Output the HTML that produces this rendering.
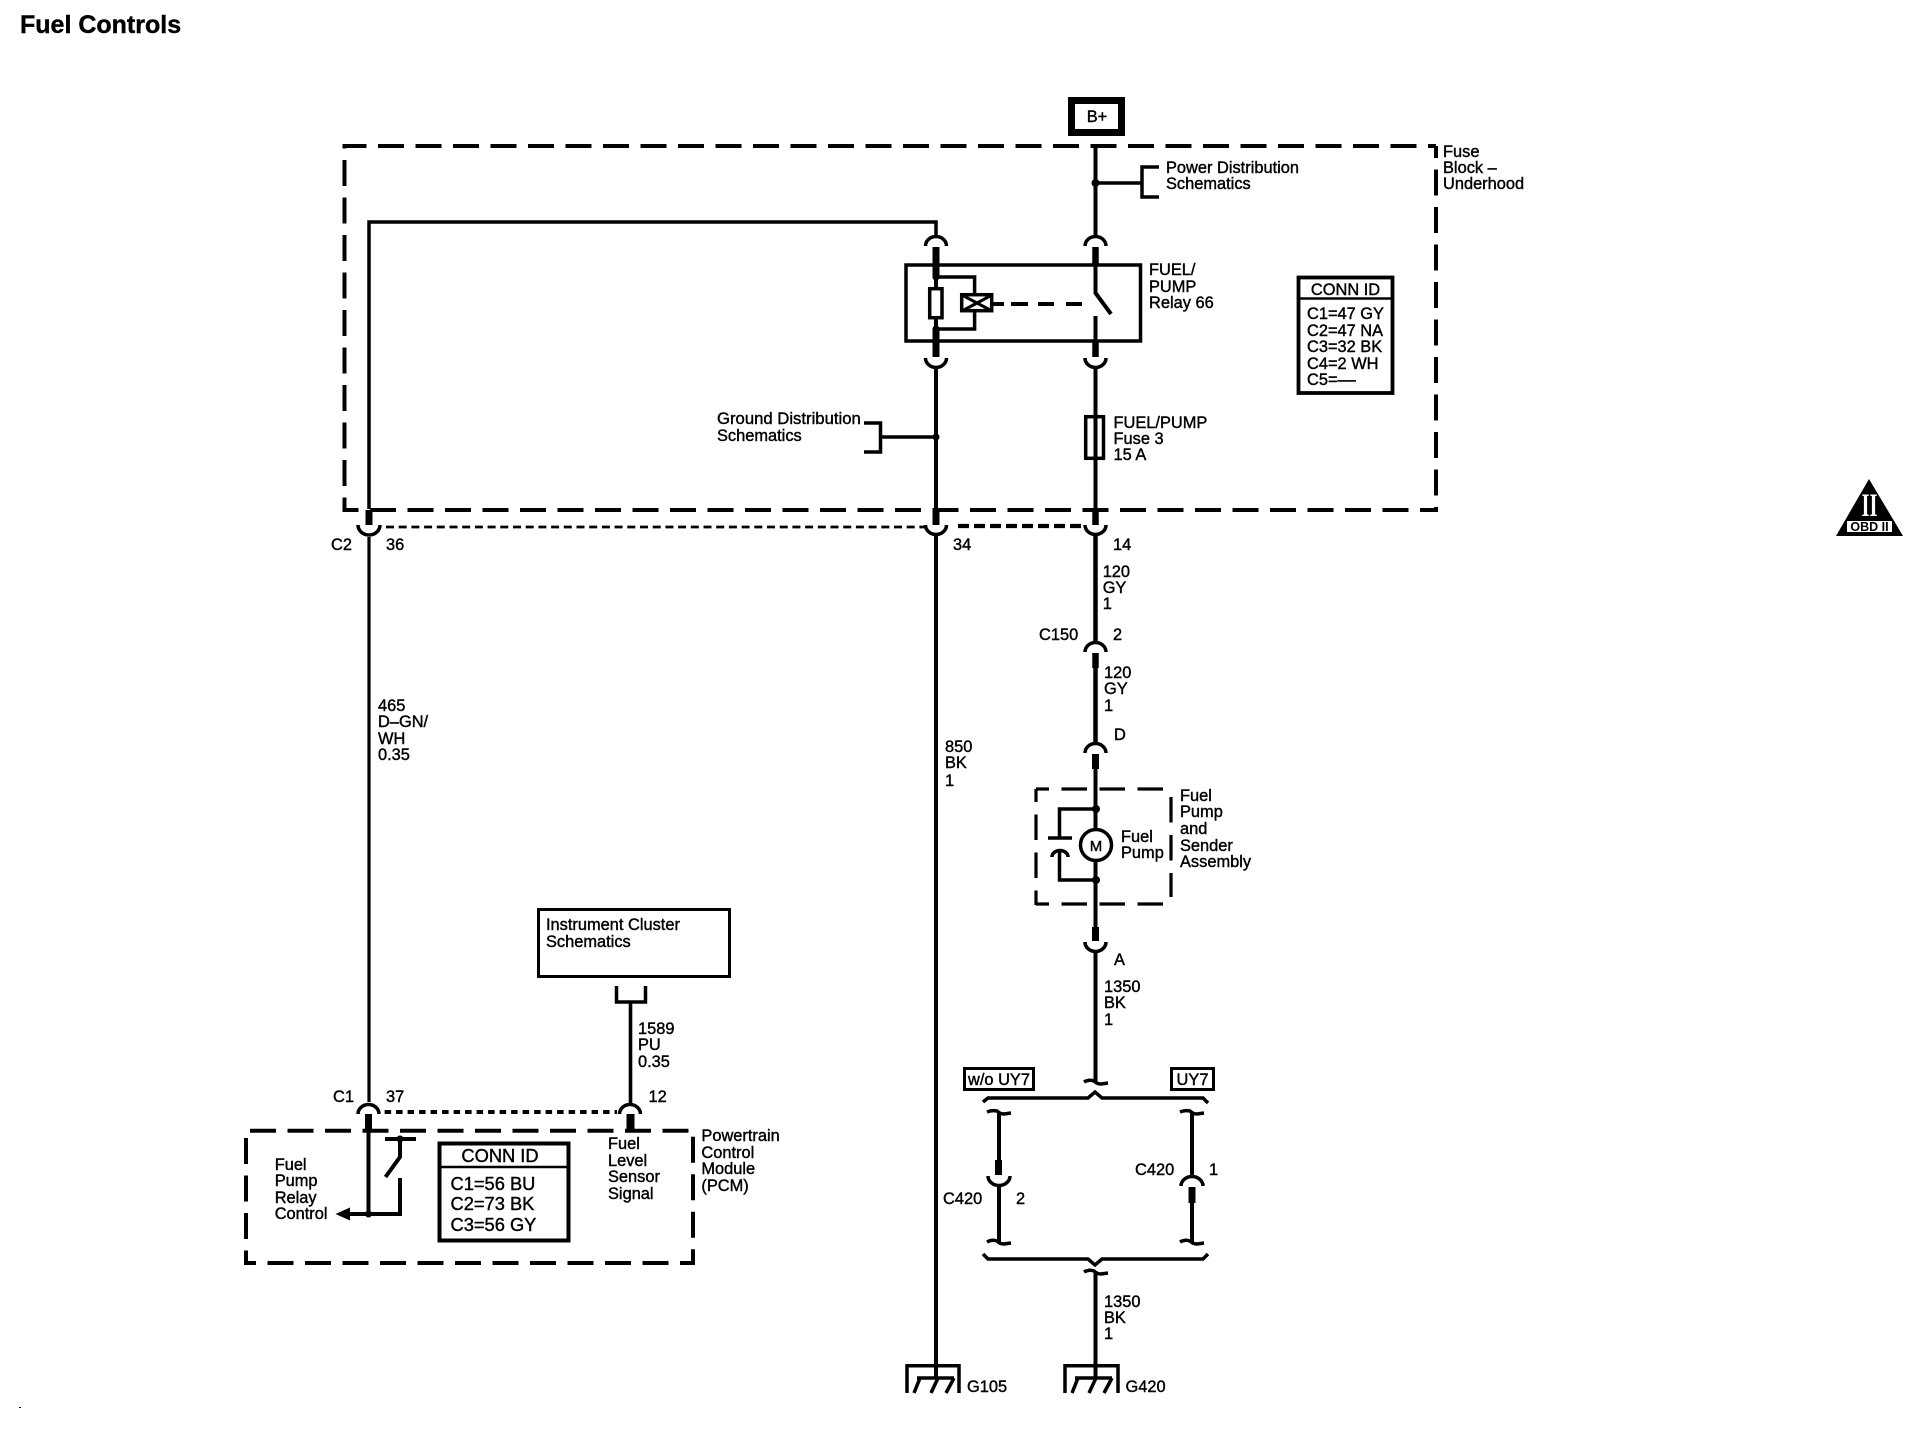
<!DOCTYPE html>
<html><head><meta charset="utf-8"><title>Fuel Controls</title>
<style>
html,body{margin:0;padding:0;background:#fff}
svg{display:block}
text{font-family:"Liberation Sans",Arial,sans-serif;font-size:16.4px;fill:#000;stroke:#000;stroke-width:.4px}
.b{font-size:18.3px}
.w{fill:none;stroke:#000;stroke-width:4}
.t{fill:none;stroke:#000;stroke-width:3.5}
.a{fill:none;stroke:#000;stroke-width:3.5}
.s{fill:none;stroke:#000;stroke-width:3}
.d{fill:none;stroke:#000;stroke-width:4;stroke-dasharray:26 11.5}
.p{fill:none;stroke:#000;stroke-width:3.2;stroke-dasharray:25.5 12.5}
</style></head><body>
<svg xmlns="http://www.w3.org/2000/svg" width="1924" height="1440" viewBox="0 0 1924 1440">
<rect width="1924" height="1440" fill="#fff"/>
<text x="20" y="33" style="font-size:25px;font-weight:bold">Fuel Controls</text>
<rect x="19" y="1407" width="2" height="1" fill="#000"/>

<!-- B+ -->
<rect x="1071.5" y="100.5" width="50" height="32" fill="#fff" stroke="#000" stroke-width="7"/>
<text x="1097" y="122" text-anchor="middle">B+</text>

<!-- Fuse block dashed -->
<path class="d" style="stroke-dashoffset:4" d="M344.5 146H1436"/>
<path class="d" style="stroke-dashoffset:12" d="M344.5 510H1436"/>
<path class="d" style="stroke-dashoffset:21.5" d="M344.5 144V512"/>
<path class="d" style="stroke-dashoffset:14" d="M1436 146V512"/>

<!-- Left wire -->
<path class="t" d="M369 509V222H936V235"/>
<path d="M369 510V525" stroke="#000" stroke-width="7" fill="none"/>
<path class="s" style="stroke-width:3.2" d="M369 537V1102"/>
<path class="a" d="M358 525a11 10 0 0 0 22 0"/>

<!-- Middle wire -->
<path class="a" d="M925.5 246a10.5 9.5 0 0 1 21 0"/>
<path d="M936 247V277" stroke="#000" stroke-width="7" fill="none"/>
<path class="w" d="M936 277V329"/>
<path d="M936 329V357" stroke="#000" stroke-width="7" fill="none"/>
<path class="a" d="M925.5 358a10.5 9.5 0 0 0 21 0"/>
<path class="w" d="M936 367V509"/>
<path d="M936 509V525" stroke="#000" stroke-width="7" fill="none"/>
<path class="a" d="M925.5 525a10.5 9.5 0 0 0 21 0"/>
<path class="w" d="M936 535V1378"/>

<!-- Relay -->
<rect x="906" y="265" width="234.5" height="76" fill="none" stroke="#000" stroke-width="3.5"/>
<rect x="929.7" y="288.7" width="12.3" height="29" fill="#fff" stroke="#000" stroke-width="3.5"/>
<path class="t" d="M936 277H974.6V293M974.6 312V329H936"/>
<circle cx="936" cy="277" r="3.6"/><circle cx="936" cy="329" r="3.6"/>
<rect x="961.7" y="294.7" width="30" height="16" fill="#fff" stroke="#000" stroke-width="3.5"/>
<path d="M962 295L992 311M992 295L962 311" stroke="#000" stroke-width="3" fill="none"/>
<path d="M993 304H1083" stroke="#000" stroke-width="4" stroke-dasharray="11 7 17 10 16 12 16" fill="none"/>

<!-- Right wire -->
<path class="w" d="M1095.5 146V235"/>
<circle cx="1095.5" cy="183" r="4"/>
<path class="a" d="M1085 246a10.5 9.5 0 0 1 21 0"/>
<path d="M1095.5 247V265" stroke="#000" stroke-width="6.5" fill="none"/>
<path class="w" d="M1095.5 265V293L1111 314M1095.5 316V342"/>
<path d="M1095.5 342V357" stroke="#000" stroke-width="6.5" fill="none"/>
<path class="a" d="M1085 358a10.5 9.5 0 0 0 21 0"/>
<path class="w" d="M1095.5 367V509"/>
<rect x="1085.7" y="416.7" width="17.8" height="41.6" fill="none" stroke="#000" stroke-width="3.5"/>
<path d="M1095.5 509V525" stroke="#000" stroke-width="6.5" fill="none"/>
<path class="a" d="M1085 525a10.5 9.5 0 0 0 21 0"/>
<path class="w" style="stroke-width:4.5" d="M1095.5 535V642"/>
<path class="a" d="M1085 652a10.5 9.5 0 0 1 21 0"/>
<path d="M1095.5 653V668" stroke="#000" stroke-width="6.5" fill="none"/>
<path class="w" style="stroke-width:4.5" d="M1095.5 668V743"/>
<path class="a" d="M1085 753a10.5 9.5 0 0 1 21 0"/>
<path d="M1095.5 754V769" stroke="#000" stroke-width="7" fill="none"/>
<path class="w" d="M1095.5 769V830M1095.5 862V927"/>
<path d="M1095.5 927V941" stroke="#000" stroke-width="7" fill="none"/>
<path class="a" d="M1085 942a10.5 9.5 0 0 0 21 0"/>
<path class="w" d="M1095.5 952V1082"/>

<!-- Power Distribution bracket -->
<path class="t" d="M1095.5 183H1142M1159 167H1142V197H1159"/>
<!-- Ground Distribution bracket -->
<path class="t" d="M936 437H880.5M864 423H880.5V452H864"/>
<circle cx="936" cy="437" r="3.5"/>

<!-- dotted connector lines -->
<path d="M386 527H925" stroke="#000" stroke-width="2.8" stroke-dasharray="8 4.7" fill="none"/>
<path d="M958 526H1083" stroke="#000" stroke-width="4.2" stroke-dasharray="11 5" fill="none"/>
<path d="M384.6 1112H617" stroke="#000" stroke-width="4" stroke-dasharray="6.5 5" fill="none"/>

<!-- Pump box -->
<path class="p" style="stroke-dashoffset:12.5" d="M1036 789H1171"/>
<path class="p" style="stroke-dashoffset:12.5" d="M1036 904H1171"/>
<path class="p" style="stroke-dashoffset:12.5" d="M1036 789V905"/>
<path class="p" d="M1171 797V897"/>
<path class="t" d="M1095.5 809H1059.5V838M1048 838H1072M1059.5 851V880H1095.5"/>
<path class="t" d="M1052 857a8 6.5 0 0 1 16 0"/>
<circle cx="1096" cy="809" r="4"/><circle cx="1096" cy="880" r="4"/>
<circle cx="1096" cy="845" r="15.5" fill="#fff" stroke="#000" stroke-width="3.5"/>
<text x="1096" y="851" text-anchor="middle" style="font-size:15px">M</text>

<!-- UY7 boxes and braces -->
<rect x="964.5" y="1068.5" width="69" height="21" fill="#fff" stroke="#000" stroke-width="3"/>
<text x="999" y="1085" text-anchor="middle">w/o UY7</text>
<rect x="1171.5" y="1068.5" width="42" height="21" fill="#fff" stroke="#000" stroke-width="3"/>
<text x="1192.5" y="1085" text-anchor="middle">UY7</text>
<path class="t" d="M983 1102L988 1098H1088L1095 1092L1102 1098H1203L1208 1103"/>
<path class="t" d="M983 1254L988 1259H1088L1095 1265L1102 1259H1203L1208 1254"/>
<path class="t" d="M1084 1082q5 -3 10 -1q3 3 7 3l7 -1"/>
<path class="t" d="M987 1112q5 -2 10 -1q3 3 7 3l7 -1"/>
<path class="t" d="M1180 1112q5 -2 10 -1q3 3 7 3l7 -1"/>
<path class="t" d="M987 1242q5 -3 10 -1q3 3 7 3l7 -1"/>
<path class="t" d="M1180 1242q5 -3 10 -1q3 3 7 3l7 -1"/>
<path class="t" d="M1084 1272q5 -3 10 -1q3 3 7 3l7 -1"/>
<path class="w" d="M999 1112V1160M999 1187V1243"/>
<path d="M998.5 1160V1175" stroke="#000" stroke-width="7" fill="none"/>
<path class="a" d="M988 1176a11 9.5 0 0 0 22 0"/>
<path class="w" d="M1192 1112V1177M1192 1203V1243"/>
<path class="a" d="M1181 1186a11 9.5 0 0 1 22 0"/>
<path d="M1192 1187V1203" stroke="#000" stroke-width="7" fill="none"/>
<path class="w" d="M1095.5 1271V1378"/>

<!-- Grounds -->
<path class="t" d="M1065 1393V1365.7H1118V1393"/>
<path class="t" d="M1075 1378H1112M1078 1378L1072 1393M1096 1378L1089 1393M1112 1378L1104 1393"/>
<path class="t" d="M907 1393V1365.7H959V1393"/>
<path class="t" d="M917 1378H954M920 1378L914 1393M938 1378L931 1393M954 1378L946 1393"/>

<!-- Instrument cluster -->
<rect x="538.5" y="909.5" width="191" height="67" fill="none" stroke="#000" stroke-width="3"/>
<path class="t" d="M616.5 986V1002H645.5V986"/>
<path class="w" style="stroke-width:3.6" d="M630.5 1002V1104"/>

<!-- PCM -->
<path class="d" d="M250 1130.7H690"/>
<path class="d" style="stroke-dashoffset:16" d="M246 1263H695"/>
<path class="d" d="M246 1138V1265"/>
<path class="d" d="M693 1136.7V1265"/>
<path class="a" d="M358 1114a10.5 9.5 0 0 1 21 0"/>
<path class="a" d="M619.5 1114a10.5 9.5 0 0 1 21 0"/>
<path d="M368.5 1114V1130" stroke="#000" stroke-width="7" fill="none"/>
<path d="M630.5 1114V1130" stroke="#000" stroke-width="8" fill="none"/>
<path class="w" d="M368.5 1130V1214M350 1214H400V1178M385 1139H416M400 1139V1157L385.5 1177"/>
<path d="M335.5 1214L350 1207.5V1220.5Z"/>
<circle cx="368.5" cy="1214" r="3.5"/><circle cx="400" cy="1139" r="3.5"/>
<rect x="439.5" y="1143.5" width="129" height="97" fill="#fff" stroke="#000" stroke-width="4"/>
<path d="M438 1167H569" stroke="#000" stroke-width="2.4"/>

<!-- Upper CONN ID -->
<rect x="1298.5" y="277.5" width="94" height="115.5" fill="#fff" stroke="#000" stroke-width="3.8"/>
<path d="M1297 298.5H1394" stroke="#000" stroke-width="2.4"/>

<!-- OBD II -->
<path d="M1869 479L1903 536H1836Z"/>
<text x="1869.5" y="516" text-anchor="middle" textLength="16" lengthAdjust="spacingAndGlyphs" style="font-family:'Liberation Serif',serif;font-size:33px;font-weight:bold;fill:#fff;stroke:none">II</text>
<rect x="1847" y="521" width="45" height="11" fill="#fff"/>
<text x="1869.5" y="531" text-anchor="middle" style="font-size:12.5px;font-weight:bold;stroke:none">OBD II</text>

<!-- Labels -->
<text x="1166" y="173">Power Distribution</text><text x="1166" y="189">Schematics</text>
<text x="1443" y="157">Fuse</text><text x="1443" y="173">Block –</text><text x="1443" y="189">Underhood</text>
<text x="1149" y="275">FUEL/</text><text x="1149" y="292">PUMP</text><text x="1149" y="308">Relay 66</text>
<text x="1345.5" y="295" text-anchor="middle">CONN ID</text>
<text x="1307" y="319">C1=47 GY</text><text x="1307" y="336">C2=47 NA</text><text x="1307" y="352">C3=32 BK</text><text x="1307" y="369">C4=2 WH</text><text x="1307" y="385">C5=––</text>
<text x="1113.5" y="428">FUEL/PUMP</text><text x="1113.5" y="444">Fuse 3</text><text x="1113.5" y="460">15 A</text>
<text x="717" y="424" style="font-size:16.7px">Ground Distribution</text><text x="717" y="441">Schematics</text>
<text x="331" y="550">C2</text><text x="386" y="550">36</text><text x="953" y="550">34</text><text x="1113" y="550">14</text>
<text x="1102.7" y="577">120</text><text x="1102.7" y="593">GY</text><text x="1102.7" y="609">1</text>
<text x="1039" y="640">C150</text><text x="1113" y="640">2</text>
<text x="1104" y="678">120</text><text x="1104" y="694">GY</text><text x="1104" y="711">1</text>
<text x="1114" y="740">D</text>
<text x="1121" y="842">Fuel</text><text x="1121" y="858">Pump</text>
<text x="1180" y="801">Fuel</text><text x="1180" y="817">Pump</text><text x="1180" y="834">and</text><text x="1180" y="851">Sender</text><text x="1180" y="867">Assembly</text>
<text x="1114" y="965">A</text>
<text x="1104" y="992">1350</text><text x="1104" y="1008">BK</text><text x="1104" y="1025">1</text>
<text x="378" y="711">465</text><text x="378" y="727">D–GN/</text><text x="378" y="744">WH</text><text x="378" y="760">0.35</text>
<text x="945" y="752">850</text><text x="945" y="768">BK</text><text x="945" y="786">1</text>
<text x="546" y="930">Instrument Cluster</text><text x="546" y="947">Schematics</text>
<text x="638" y="1034">1589</text><text x="638" y="1050">PU</text><text x="638" y="1067">0.35</text>
<text x="333" y="1102">C1</text><text x="386" y="1102">37</text><text x="648.5" y="1102">12</text>
<text x="274.7" y="1170">Fuel</text><text x="274.7" y="1186">Pump</text><text x="274.7" y="1203">Relay</text><text x="274.7" y="1219">Control</text>
<text x="608" y="1149">Fuel</text><text x="608" y="1166">Level</text><text x="608" y="1182">Sensor</text><text x="608" y="1199">Signal</text>
<text x="701.4" y="1141">Powertrain</text><text x="701.4" y="1158">Control</text><text x="701.4" y="1174">Module</text><text x="701.4" y="1191">(PCM)</text>
<text class="b" x="500" y="1162" text-anchor="middle">CONN ID</text>
<text class="b" x="450.5" y="1190">C1=56 BU</text><text class="b" x="450.5" y="1210">C2=73 BK</text><text class="b" x="450.5" y="1231">C3=56 GY</text>
<text x="943" y="1204">C420</text><text x="1016" y="1204">2</text>
<text x="1135" y="1175">C420</text><text x="1209" y="1175">1</text>
<text x="1104" y="1307">1350</text><text x="1104" y="1323">BK</text><text x="1104" y="1339">1</text>
<text x="967" y="1392">G105</text><text x="1125.5" y="1392">G420</text>
</svg>
</body></html>
